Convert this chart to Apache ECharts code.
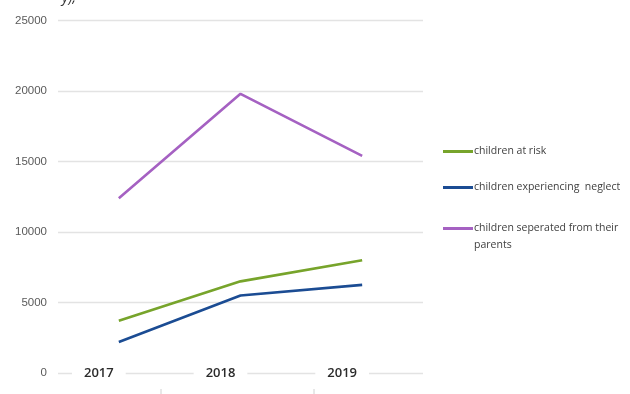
<!DOCTYPE html>
<html>
<head>
<meta charset="utf-8">
<script src="https://cdn.jsdelivr.net/npm/echarts@6/dist/echarts.min.js"></script>
<style>
  html, body { margin: 0; padding: 0; background: #ffffff; }
  #chart { width: 630px; height: 394px; }
</style>
</head>
<body>
<div id="chart"></div>
<script>
// Years on the category axis
const years = ['2017', '2018', '2019'];

// Yearly counts per series
const atRisk = [3700, 6500, 8000];
const neglect = [2200, 5500, 6250];
const separated = [12400, 19800, 15400];

// Series names shown in the legend
const nameRisk = 'children at risk';
const nameNeglect = 'children experiencing  neglect';
const nameSeparated = 'children seperated from their parents';

// Value axis range
const yMin = 0, yMax = 25000, yStep = 5000;

const colRisk = '#77a42b';
const colNeglect = '#1b4c93';
const colSeparated = '#a561c2';

const chart = echarts.init(document.getElementById('chart'), null, { renderer: 'canvas' });

const lineSeries = (name, data, color) => ({
  name, type: 'line', data,
  xAxisIndex: 0, yAxisIndex: 0,
  symbol: 'none',
  lineStyle: { color, width: 2.6 },
  itemStyle: { color },
  z: 5
});

const legendBase = {
  orient: 'vertical',
  icon: 'rect',
  itemWidth: 30,
  itemHeight: 3,
  itemGap: 0,
  padding: 0,
  left: 443,
  textStyle: { fontFamily: 'Open Sans, Liberation Sans, sans-serif', fontSize: 10.5, color: '#404040', padding: [0, 0, 0, -4] }
};

chart.setOption({
  animation: false,
  backgroundColor: '#ffffff',
  grid: [
    { left: 58, right: 207, top: 20.5, bottom: 21 },
    { left: 38, right: 227, top: 20.5, bottom: 21 }
  ],
  xAxis: [
    {
      type: 'category', gridIndex: 0, data: years, boundaryGap: true,
      axisLine: { show: false }, axisTick: { show: false }, axisLabel: { show: false }
    },
    {
      type: 'category', gridIndex: 1, data: years, boundaryGap: true, z: 10,
      axisLine: { show: false }, axisTick: { show: false },
      axisLabel: {
        margin: 0, verticalAlign: 'middle',
        fontFamily: 'Open Sans, Liberation Sans, sans-serif', fontSize: 13, fontWeight: 600, color: '#2b2b2b',
        backgroundColor: '#ffffff', padding: [3, 12, 3, 12]
      }
    }
  ],
  yAxis: [
    {
      type: 'value', gridIndex: 0, min: yMin, max: yMax, interval: yStep,
      axisLine: { show: false }, axisTick: { show: false },
      axisLabel: {
        margin: 11, formatter: v => String(v),
        fontFamily: 'Liberation Sans, Arial, sans-serif', fontSize: 11.5, color: '#5a5a5a'
      },
      splitLine: { lineStyle: { color: '#e3e3e3', width: 1.3 } }
    },
    {
      type: 'value', gridIndex: 1, min: yMin, max: yMax, interval: yStep, show: false
    }
  ],
  legend: [
    Object.assign({}, legendBase, { top: 146, data: [nameRisk] }),
    Object.assign({}, legendBase, { top: 182, data: [nameNeglect] }),
    Object.assign({}, legendBase, {
      top: 203, data: [nameSeparated],
      // blank first line keeps the icon level with the first text line
      formatter: () => '\nchildren seperated from their\nparents',
      textStyle: Object.assign({}, legendBase.textStyle, { lineHeight: 17 })
    })
  ],
  series: [
    lineSeries(nameRisk, atRisk, colRisk),
    lineSeries(nameNeglect, neglect, colNeglect),
    lineSeries(nameSeparated, separated, colSeparated)
  ],
  graphic: [
    { type: 'text', left: 62, top: -9, style: { text: 'y),', fontFamily: 'Open Sans, Liberation Sans, sans-serif', fontSize: 14, fontStyle: 'italic', fill: '#333333' } },
    { type: 'line', shape: { x1: 161, y1: 389, x2: 161, y2: 394 }, style: { stroke: '#d0d0d0', lineWidth: 1 } },
    { type: 'line', shape: { x1: 314, y1: 389, x2: 314, y2: 394 }, style: { stroke: '#d0d0d0', lineWidth: 1 } }
  ]
});
</script>
</body>
</html>
